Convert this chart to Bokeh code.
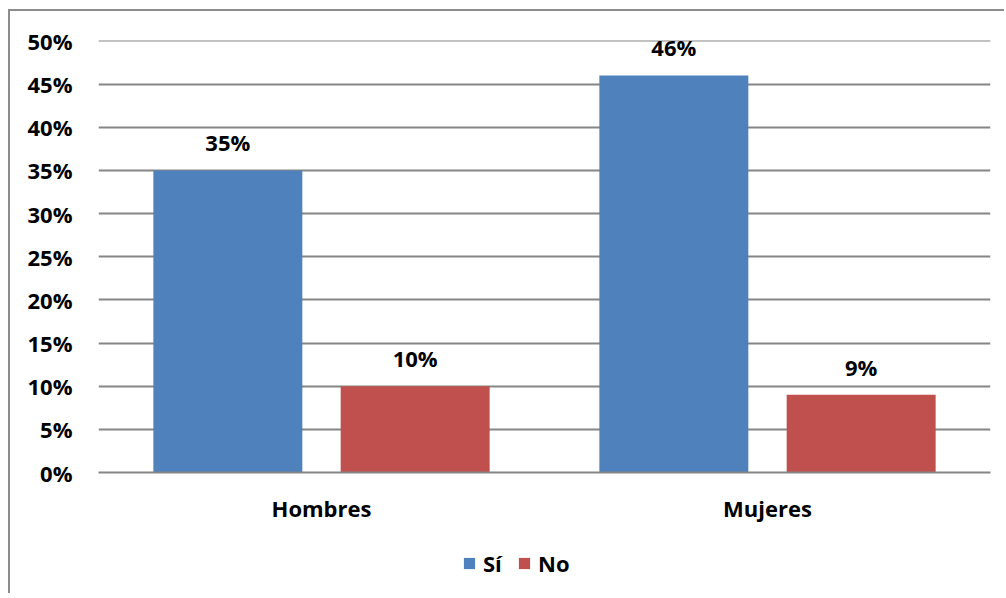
from bokeh.plotting import figure
from bokeh.models import (ColumnDataSource, FactorRange, FixedTicker, NumeralTickFormatter,
                          LabelSet, Legend, LegendItem, Range1d)
from bokeh.layouts import column
from bokeh.core.properties import value
from bokeh.transform import dodge
from bokeh.embed import file_html
from bokeh.resources import INLINE

categories = ["Hombres", "Mujeres"]
si_values = [0.35, 0.46]
no_values = [0.10, 0.09]
series_names = ["Sí", "No"]
y_ticks = [0.0, 0.05, 0.10, 0.15, 0.20, 0.25, 0.30, 0.35, 0.40, 0.45, 0.50]

BLUE = "#4F81BD"
RED = "#C0504D"
GRID = "#868686"
FONT = "Open Sans"
FS = "22px"

src = ColumnDataSource(dict(
    cat=categories,
    si=si_values,
    no=no_values,
    si_lbl=[f"{round(v*100)}%" for v in si_values],
    no_lbl=[f"{round(v*100)}%" for v in no_values],
))

p = figure(x_range=FactorRange(*categories, range_padding=0), y_range=Range1d(0, 0.5005),
           width=994, height=524, output_backend="svg", toolbar_location=None,
           min_border_left=88, min_border_right=14, min_border_top=29, min_border_bottom=63)

r_si = p.vbar(x=dodge("cat", -0.21, range=p.x_range), top="si", width=0.334, source=src,
              color=BLUE, line_color=None)
r_no = p.vbar(x=dodge("cat", 0.21, range=p.x_range), top="no", width=0.334, source=src,
              color=RED, line_color=None)

for col, off in (("si", -0.21), ("no", 0.21)):
    ls = LabelSet(x=dodge("cat", off, range=p.x_range), y=col, text=col + "_lbl", source=src,
                  text_align="center", text_baseline="middle", y_offset=28,
                  text_font=value(FONT), text_font_style="bold", text_font_size=FS,
                  text_color="black")
    p.add_layout(ls)

p.outline_line_color = None
p.background_fill_color = "white"
p.border_fill_color = "white"

p.yaxis.ticker = FixedTicker(ticks=y_ticks)
p.yaxis.formatter = NumeralTickFormatter(format="0%")
p.yaxis.axis_line_color = None
p.yaxis.major_tick_line_color = None
p.yaxis.minor_tick_line_color = None
p.yaxis.major_label_standoff = 20
p.yaxis.major_label_text_font = FONT
p.yaxis.major_label_text_font_style = "bold"
p.yaxis.major_label_text_font_size = FS
p.yaxis.major_label_text_color = "black"

p.xaxis.axis_line_color = GRID
p.xaxis.axis_line_width = 2
p.xaxis.major_tick_line_color = None
p.xaxis.minor_tick_line_color = None
p.xaxis.major_label_standoff = 14
p.xaxis.major_label_text_font = FONT
p.xaxis.major_label_text_font_style = "bold"
p.xaxis.major_label_text_font_size = FS
p.xaxis.major_label_text_color = "black"

p.xgrid.grid_line_color = None
p.ygrid.grid_line_color = GRID
p.ygrid.grid_line_width = 2

# legend strip below the chart (its bars lie outside its visible y-range)
q = figure(width=994, height=58, x_range=FactorRange(*categories, range_padding=0),
           y_range=Range1d(1, 2), output_backend="svg", toolbar_location=None,
           min_border_left=0, min_border_right=0, min_border_top=0, min_border_bottom=0)
q.axis.visible = False
q.grid.visible = False
q.outline_line_color = None
q.border_fill_color = "white"
l_si = q.vbar(x=dodge("cat", -0.21, range=q.x_range), top="si", width=0.334, source=src,
              color=BLUE, line_color=None)
l_no = q.vbar(x=dodge("cat", 0.21, range=q.x_range), top="no", width=0.334, source=src,
              color=RED, line_color=None)

legend = Legend(items=[LegendItem(label=series_names[0], renderers=[l_si]),
                       LegendItem(label=series_names[1], renderers=[l_no])],
                orientation="horizontal", location=(364, 15),
                label_text_font=FONT, label_text_font_style="bold", label_text_font_size=FS,
                label_text_color="black", glyph_width=14, glyph_height=14, label_standoff=7,
                spacing=14, padding=0, margin=0, border_line_color=None,
                background_fill_alpha=0)
q.add_layout(legend, "center")

layout = column(p, q, spacing=0)
layout.styles = {"margin-left": "8px", "margin-top": "9px",
                 "border-left": "2px solid #8C8C8C", "border-top": "2px solid #8C8C8C"}

open("out.html", "w").write(file_html(layout, INLINE))
